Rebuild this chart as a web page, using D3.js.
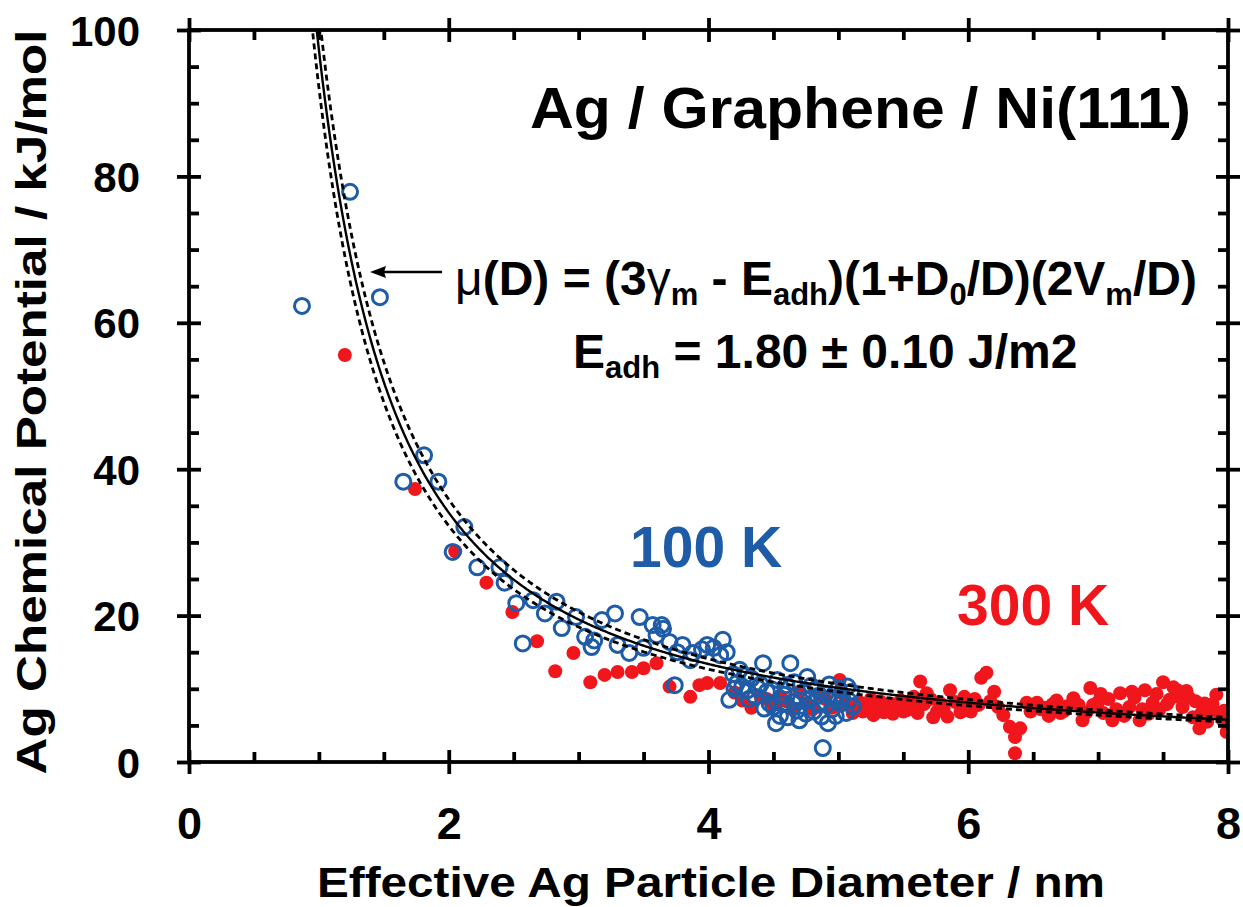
<!DOCTYPE html>
<html>
<head>
<meta charset="utf-8">
<script src="https://cdn.jsdelivr.net/npm/d3@7"></script>
<style>
  body { margin: 0; background: #fff; }
  svg { display: block; }
  text { font-family: "Liberation Sans", Arial, sans-serif; font-weight: bold; fill: #000; }
</style>
</head>
<body>
<svg id="chart" width="1243" height="907"></svg>
<script>
// ---- axis ticks ----
const xTicks = [0, 2, 4, 6, 8];
const xMinor = [0.5, 1, 1.5, 2.5, 3, 3.5, 4.5, 5, 5.5, 6.5, 7, 7.5];
const yTicks = [0, 20, 40, 60, 80, 100];
const yMinor = [5, 10, 15, 25, 30, 35, 45, 50, 55, 65, 70, 75, 85, 90, 95];

// ---- 100 K: diameter (nm) and chemical potential (kJ/mol) ----
const d100 = [0.87, 1.24, 1.47, 1.65, 1.81, 1.92, 2.03, 2.12, 2.22, 2.39, 2.43, 2.52, 2.57, 2.65,
  2.74, 2.83, 2.87, 2.98, 3.05, 3.10, 3.12, 3.18, 3.28, 3.30, 3.39, 3.47, 3.50, 3.57, 3.60, 3.64,
  3.65, 3.70, 3.74, 3.76, 3.80, 3.86, 3.88, 3.95, 3.99, 4.04, 4.09, 4.11, 4.14, 4.16, 4.19, 4.22,
  4.24, 4.26, 4.30, 4.33, 4.36, 4.40, 4.42, 4.45, 4.47, 4.50, 4.52, 4.55, 4.58, 4.60, 4.63, 4.65,
  4.68, 4.70, 4.73, 4.76, 4.78, 4.81, 4.83, 4.86, 4.88, 4.90, 4.92, 4.95, 4.97, 5.00, 5.03, 5.06,
  5.08, 5.10,
  4.20, 4.28, 4.31, 4.38, 4.43, 4.49, 4.53, 4.57, 4.61, 4.66, 4.71, 4.75, 4.79, 4.84, 4.87, 4.93,
  4.98, 5.02, 5.07, 5.11];
const mu100 = [62.3, 77.9, 63.5, 38.3, 41.9, 38.3, 28.7, 32.1, 26.6, 26.6, 24.5, 21.7, 16.2, 22.1,
  20.3, 21.9, 18.3, 19.8, 17.1, 15.7, 16.6, 19.4, 20.3, 16.0, 14.9, 19.8, 15.6, 18.7, 17.3, 18.7,
  18.2, 16.4, 10.5, 15.0, 16.0, 13.9, 14.9, 15.4, 16.0, 15.6, 14.6, 16.7, 15.0, 8.5, 12.0, 10.8,
  12.6, 10.3, 9.8, 11.4, 8.9, 10.6, 13.5, 9.6, 8.0, 7.5, 5.3, 6.3, 9.2, 10.5, 13.5, 8.2,
  7.0, 5.7, 9.5, 11.6, 8.6, 6.9, 10.0, 7.8, 1.9, 9.3, 5.3, 7.2, 8.6, 10.1, 9.1, 6.7,
  8.4, 9.6,
  10.0, 11.8, 8.6, 10.1, 7.3, 9.9, 11.2, 7.9, 6.1, 10.9, 8.4, 6.6, 10.4, 9.0, 6.2, 10.6,
  6.3, 8.0, 10.3, 7.6];

// ---- 300 K ----
const d300 = [1.20, 1.74, 2.05, 2.29, 2.49, 2.68, 2.82, 2.96, 3.09, 3.20, 3.30, 3.41, 3.50, 3.60,
  3.70, 3.86, 3.93, 3.99, 4.09, 4.20, 4.33, 4.40, 4.50, 4.60, 4.70, 4.80, 4.90, 5.01, 5.05, 5.11,
  5.16, 5.22, 5.27, 5.32, 5.37, 5.45, 5.53, 5.58, 5.63, 5.68, 5.73, 5.78, 5.86, 5.90, 5.94, 5.99,
  6.05, 6.10, 6.14, 6.20, 6.27, 6.32, 6.36, 6.36, 6.40, 6.45, 6.53, 6.60, 6.65, 6.71, 6.76, 6.81,
  6.88, 6.94, 6.96, 7.04, 7.08, 7.11, 7.17, 7.24, 7.28, 7.32, 7.36, 7.42, 7.50, 7.55, 7.61, 7.65,
  7.70, 7.73, 7.78, 7.82, 7.86, 7.91, 7.96, 7.99, 8.00,
  4.26, 4.45, 4.55, 4.65, 4.75, 4.85, 4.95, 5.03,
  5.14, 5.19, 5.25, 5.30, 5.35, 5.40, 5.42, 5.48, 5.50, 5.56, 5.61, 5.66, 5.71, 5.76, 5.81, 5.84,
  5.97, 6.02, 6.08, 6.17, 6.23, 6.48, 6.56, 6.62, 6.68, 6.74, 6.85, 6.91, 7.00, 7.02, 7.14, 7.20,
  7.26, 7.34, 7.39, 7.45, 7.47, 7.53, 7.58, 7.63, 7.68, 7.75, 7.80, 7.84, 7.88, 7.93, 7.97];
const mu300 = [55.6, 37.3, 28.8, 24.5, 20.5, 16.5, 12.4, 14.9, 10.9, 11.9, 12.3, 12.3, 12.8, 13.5,
  10.3, 8.9, 10.5, 10.8, 10.8, 9.5, 7.4, 9.0, 7.8, 8.3, 9.6, 7.2, 8.6, 11.2, 8.0, 6.7,
  8.2, 7.5, 6.4, 8.3, 7.8, 7.4, 7.1, 8.9, 11.0, 9.4, 6.1, 8.1, 9.8, 8.2, 6.8, 7.5,
  8.6, 11.5, 12.2, 9.6, 6.4, 4.8, 3.4, 1.2, 4.6, 8.1, 8.1, 7.4, 7.9, 6.7, 7.6, 8.7,
  5.7, 10.1, 7.8, 6.7, 8.6, 5.7, 9.4, 7.5, 8.8, 5.7, 9.8, 8.1, 10.9, 8.5, 9.8, 7.5,
  8.8, 6.1, 4.6, 8.0, 7.1, 9.2, 5.7, 4.1, 6.0,
  8.4, 8.6, 9.0, 7.2, 8.0, 9.2, 7.4, 9.4,
  7.8, 6.9, 8.6, 7.2, 6.8, 8.0, 6.6, 8.4, 6.9, 7.6, 6.7, 7.9, 8.6, 6.9, 7.3, 6.2,
  8.9, 6.9, 7.8, 8.3, 7.5, 6.9, 7.2, 6.3, 8.4, 7.0, 7.8, 6.8, 8.2, 9.3, 7.2, 6.3,
  9.6, 7.2, 6.6, 9.3, 7.1, 7.9, 10.2, 8.8, 9.7, 8.3, 6.8, 5.5, 7.9, 6.7, 7.0];

// ---- model: mu(D) = (3*gammaM - Eadh)(1 + D0/D)(2 Vm / D) ----
// gammaM, Eadh in J/m2; Vm in cm3/mol; D, D0 in nm  ->  mu in kJ/mol
const gammaM = 1.23, Eadh = 1.80, dEadh = 0.10, Vm = 10.3, D0 = 1.5;
const mu = (D, e) => (3 * gammaM - e) * (1 + D0 / D) * (2 * Vm / D);

const blue = "#1f5ca8", red = "#f0161c";

const svg = d3.select("#chart");
const x = d3.scaleLinear().domain([0, 8]).range([189, 1228]);
const y = d3.scaleLinear().domain([0, 100]).range([762, 30]);

svg.append("defs").append("clipPath").attr("id", "plot")
  .append("rect").attr("x", x(0)).attr("y", y(100))
  .attr("width", x(8) - x(0)).attr("height", y(0) - y(100));

// ---- points: 300 K underneath, 100 K open circles above ----
const pts = svg.append("g").attr("clip-path", "url(#plot)");
pts.selectAll("circle.r").data(d3.zip(d300, mu300)).join("circle")
  .attr("class", "r").attr("cx", d => x(d[0])).attr("cy", d => y(d[1]))
  .attr("r", 7).attr("fill", red);
pts.selectAll("circle.b").data(d3.zip(d100, mu100)).join("circle")
  .attr("class", "b").attr("cx", d => x(d[0])).attr("cy", d => y(d[1]))
  .attr("r", 7.5).attr("fill", "none").attr("stroke", blue).attr("stroke-width", 3);

// ---- fit curve and +/- bounds ----
const Ds = d3.range(0.85, 8.0001, 0.01);
const line = d3.line().x(d => x(d[0])).y(d => y(d[1]));
const curves = svg.append("g").attr("clip-path", "url(#plot)").attr("fill", "none").attr("stroke", "#000");
[[Eadh - dEadh, true], [Eadh + dEadh, true], [Eadh, false]].forEach(([e, dashed]) => {
  curves.append("path")
    .attr("d", line(Ds.map(D => [D, mu(D, e)])))
    .attr("stroke-width", dashed ? 2.8 : 2.4)
    .attr("stroke-dasharray", dashed ? "6 4" : null);
});

// ---- frame ----
svg.append("rect").attr("x", x(0)).attr("y", y(100))
  .attr("width", x(8) - x(0)).attr("height", y(0) - y(100))
  .attr("fill", "none").attr("stroke", "#000").attr("stroke-width", 3.8);

const W = 3.8, big = 12, small = 10;
function styleAxis(g) {
  g.select(".domain").remove();
  g.selectAll(".tick line").attr("stroke", "#000").attr("stroke-width", W);
}
// major ticks cross the frame, minor ticks point inward
const axB = svg.append("g").attr("transform", `translate(0,${y(0)})`)
  .call(d3.axisBottom(x).tickValues(xTicks).tickSizeInner(big).tickSizeOuter(0).tickPadding(33).tickFormat(d3.format("d")));
styleAxis(axB); axB.selectAll(".tick line").attr("y1", -big);
axB.selectAll(".tick text").attr("font-size", 45);
const axBm = svg.append("g").attr("transform", `translate(0,${y(0)})`)
  .call(d3.axisBottom(x).tickValues(xMinor).tickSize(-small).tickFormat(""));
styleAxis(axBm);

const axT = svg.append("g").attr("transform", `translate(0,${y(100)})`)
  .call(d3.axisTop(x).tickValues(xTicks).tickSizeInner(big).tickSizeOuter(0).tickFormat(""));
styleAxis(axT); axT.selectAll(".tick line").attr("y1", big);
const axTm = svg.append("g").attr("transform", `translate(0,${y(100)})`)
  .call(d3.axisTop(x).tickValues(xMinor).tickSize(-small).tickFormat(""));
styleAxis(axTm);

const axL = svg.append("g").attr("transform", `translate(${x(0)},0)`)
  .call(d3.axisLeft(y).tickValues(yTicks).tickSizeInner(big).tickSizeOuter(0).tickPadding(37).tickFormat(d3.format("d")));
styleAxis(axL); axL.selectAll(".tick line").attr("x1", big);
axL.selectAll(".tick text").attr("font-size", 42).attr("dy", "0.36em");
const axLm = svg.append("g").attr("transform", `translate(${x(0)},0)`)
  .call(d3.axisLeft(y).tickValues(yMinor).tickSize(-small).tickFormat(""));
styleAxis(axLm);

const axR = svg.append("g").attr("transform", `translate(${x(8)},0)`)
  .call(d3.axisRight(y).tickValues(yTicks).tickSizeInner(big).tickSizeOuter(0).tickFormat(""));
styleAxis(axR); axR.selectAll(".tick line").attr("x1", -big);
const axRm = svg.append("g").attr("transform", `translate(${x(8)},0)`)
  .call(d3.axisRight(y).tickValues(yMinor).tickSize(-small).tickFormat(""));
styleAxis(axRm);

// ---- axis titles ----
svg.append("text").attr("x", 711).attr("y", 897).attr("text-anchor", "middle")
  .attr("font-size", 42).attr("textLength", 788).attr("lengthAdjust", "spacingAndGlyphs")
  .text("Effective Ag Particle Diameter / nm");
svg.append("text").attr("transform", "translate(46,402) rotate(-90)").attr("text-anchor", "middle")
  .attr("font-size", 42).attr("textLength", 745).attr("lengthAdjust", "spacingAndGlyphs")
  .text("Ag Chemical Potential / kJ/mol");

// ---- annotations ----
svg.append("text").attr("x", 530).attr("y", 128).attr("font-size", 57)
  .attr("textLength", 661).attr("lengthAdjust", "spacingAndGlyphs")
  .text("Ag / Graphene / Ni(111)");

const eq = svg.append("text").attr("x", 455).attr("y", 295).attr("font-size", 48);
const parts = [
  ["\u03bc", "n"], ["(D) = (3", ""], ["\u03b3", "n"], ["m", "s"], [" - E", ""], ["adh", "s"],
  [")(1+D", ""], ["0", "s"], ["/D)(2V", ""], ["m", "s"], ["/D)", ""]
];
parts.forEach(([t, k], i) => {
  const s = eq.append("tspan").text(t);
  if (k === "n") s.attr("font-weight", "normal");
  if (k === "s") s.attr("font-size", 31).attr("dy", 10);
  else if (i > 0 && parts[i - 1][1] === "s") s.attr("dy", -10);
});

const ea = svg.append("text").attr("x", 573).attr("y", 368).attr("font-size", 48);
ea.append("tspan").text("E");
ea.append("tspan").text("adh").attr("font-size", 31).attr("dy", 10);
ea.append("tspan").text(" = 1.80 \u00b1 0.10 J/m2").attr("dy", -10);

// arrow pointing at the fit curve
svg.append("path").attr("d", "M442,272 L380,272").attr("stroke", "#000").attr("stroke-width", 2.6);
svg.append("path").attr("d", "M370,272 L386,266 L384,272 L386,278 Z").attr("fill", "#000");

svg.append("text").attr("x", 630).attr("y", 567).attr("font-size", 57).style("fill", blue).text("100 K");
svg.append("text").attr("x", 957).attr("y", 625).attr("font-size", 57).style("fill", red).text("300 K");
</script>
</body>
</html>
